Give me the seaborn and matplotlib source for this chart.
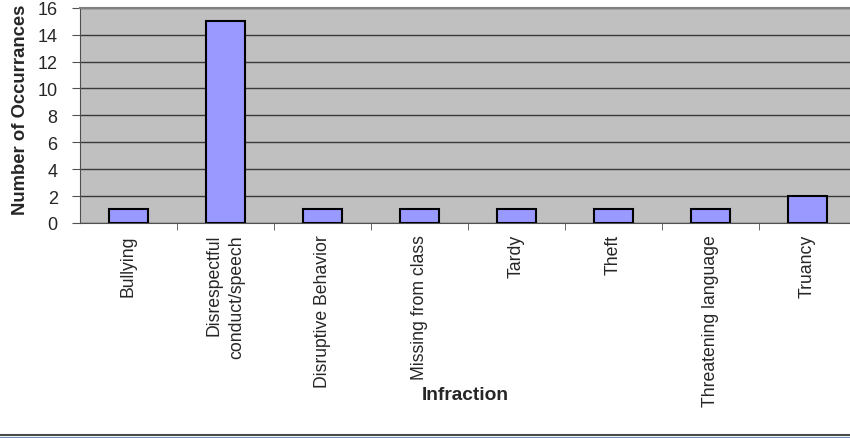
import matplotlib
matplotlib.use("Agg")
import matplotlib.pyplot as plt
import matplotlib.lines as mlines
import seaborn as sns
import pandas as pd

# Chart data
infractions = ["Bullying", "Disrespectful\nconduct/speech", "Disruptive Behavior",
               "Missing from class", "Tardy", "Theft", "Threatening language", "Truancy"]
occurrences = [1, 15, 1, 1, 1, 1, 1, 2]
y_ticks = [0, 2, 4, 6, 8, 10, 12, 14, 16]

df = pd.DataFrame({"Infraction": infractions, "Occurrences": occurrences})

sns.set_style("white")
plt.rcParams["font.family"] = ["Liberation Sans", "DejaVu Sans"]

fig = plt.figure(figsize=(8.5, 4.39), dpi=100)
ax = fig.add_axes([0.094, 0.49, 0.913, 0.49])
ax.set_facecolor("#C0C0C0")

sns.barplot(data=df, x="Infraction", y="Occurrences", color="#9999FF",
            edgecolor="black", linewidth=1.5, width=0.41, saturation=1, ax=ax, zorder=3)

ax.set_ylim(0, 16)
ax.set_yticks(y_ticks)
ax.set_xlim(-0.5, len(infractions) - 0.5)
ax.grid(axis="y", color="#3a3a3a", linewidth=1, zorder=0)
ax.set_axisbelow(True)

for side in ["top", "right"]:
    ax.spines[side].set_color("#808080")
    ax.spines[side].set_linewidth(1.5)
ax.spines["left"].set_color("#505050")
ax.spines["bottom"].set_color("#505050")

ax.tick_params(axis="y", labelsize=13, length=6, direction="out", left=True, color="#505050", pad=10)
ax.set_xticks([i + 0.5 for i in range(len(infractions) - 1)], minor=True)
ax.tick_params(axis="x", which="minor", length=5, direction="out", bottom=True, color="#505050")
ax.tick_params(axis="x", which="major", length=0, pad=8)
ax.set_xticks(range(len(infractions)))
ax.set_xticklabels(infractions, rotation=90, fontsize=12.7, va="top", ha="center",
                   multialignment="right", linespacing=1.45)

ax.set_ylabel("Number of Occurrances", fontsize=13.3, fontweight="bold")
ax.yaxis.set_label_coords(-0.066, 0.53)
ax.set_xlabel("")
fig.text(0.547, 0.1, "Infraction", fontsize=13.8, fontweight="bold", ha="center", va="center")

# frame line at bottom of the figure
fig.add_artist(mlines.Line2D([0, 1], [0.006, 0.006], color="#4a4a4a", linewidth=1.5,
                             transform=fig.transFigure))
fig.add_artist(mlines.Line2D([0, 1], [0.001, 0.001], color="#6d8fb8", linewidth=1.5,
                             transform=fig.transFigure))

fig.savefig("out.png", dpi=100)
